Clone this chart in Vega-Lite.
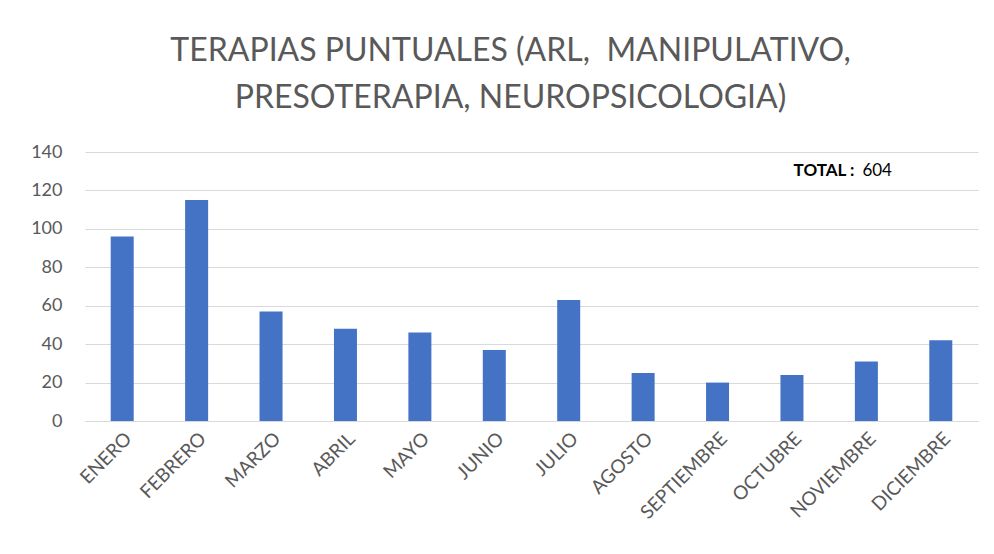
{
  "$schema": "https://vega.github.io/schema/vega-lite/v6.json",
  "autosize": "none",
  "width": 893,
  "height": 269,
  "padding": {"left": 85, "top": 152, "right": 16, "bottom": 133},
  "background": "white",
  "title": {
    "text": ["TERAPIAS PUNTUALES (ARL, \u00a0MANIPULATIVO,", "PRESOTERAPIA, NEUROPSICOLOGIA)"],
    "font": "Lato",
    "fontSize": 32,
    "fontWeight": "normal",
    "color": "#595959",
    "lineHeight": 47,
    "anchor": "middle",
    "dx": -21,
    "offset": 28
  },
  "config": {
    "view": {"stroke": null},
    "font": "Lato"
  },
  "datasets": {
    "meses": [
      {"mes": "ENERO", "valor": 96},
      {"mes": "FEBRERO", "valor": 115},
      {"mes": "MARZO", "valor": 57},
      {"mes": "ABRIL", "valor": 48},
      {"mes": "MAYO", "valor": 46},
      {"mes": "JUNIO", "valor": 37},
      {"mes": "JULIO", "valor": 63},
      {"mes": "AGOSTO", "valor": 25},
      {"mes": "SEPTIEMBRE", "valor": 20},
      {"mes": "OCTUBRE", "valor": 24},
      {"mes": "NOVIEMBRE", "valor": 31},
      {"mes": "DICIEMBRE", "valor": 42}
    ],
    "total": [
      {"mes": "NOVIEMBRE", "valor": 130, "etiqueta": "TOTAL :", "numero": "604"}
    ]
  },
  "encoding": {
    "x": {
      "field": "mes", "type": "nominal", "sort": null,
      "scale": {"paddingInner": 0, "paddingOuter": 0},
      "axis": {
        "title": null, "labelAngle": -45, "labelFontSize": 19,
        "labelColor": "#595959", "labelFont": "Lato",
        "ticks": false, "domain": true, "domainColor": "#d9d9d9",
        "labelPadding": 8, "labelOverlap": false
      }
    },
    "y": {
      "field": "valor", "type": "quantitative",
      "scale": {"domain": [0, 140], "nice": false},
      "axis": {
        "title": null, "values": [0, 20, 40, 60, 80, 100, 120, 140],
        "tickCount": 8,
        "labelFontSize": 18, "labelColor": "#595959",
        "labelFont": "Lato", "labelOverlap": false,
        "ticks": false, "domain": false, "gridColor": "#d9d9d9",
        "labelPadding": 23
      }
    }
  },
  "layer": [
    {
      "data": {"name": "meses"},
      "mark": {"type": "bar", "color": "#4472C4", "size": 23}
    },
    {
      "data": {"name": "total"},
      "mark": {"type": "text", "align": "right", "dx": -12, "fontWeight": "bold", "fontSize": 17, "font": "Lato", "color": "#000000"},
      "encoding": {
        "text": {"field": "etiqueta"}
      }
    },
    {
      "data": {"name": "total"},
      "mark": {"type": "text", "align": "left", "dx": -4, "fontSize": 17, "font": "Lato", "color": "#000000"},
      "encoding": {
        "text": {"field": "numero"}
      }
    }
  ]
}
